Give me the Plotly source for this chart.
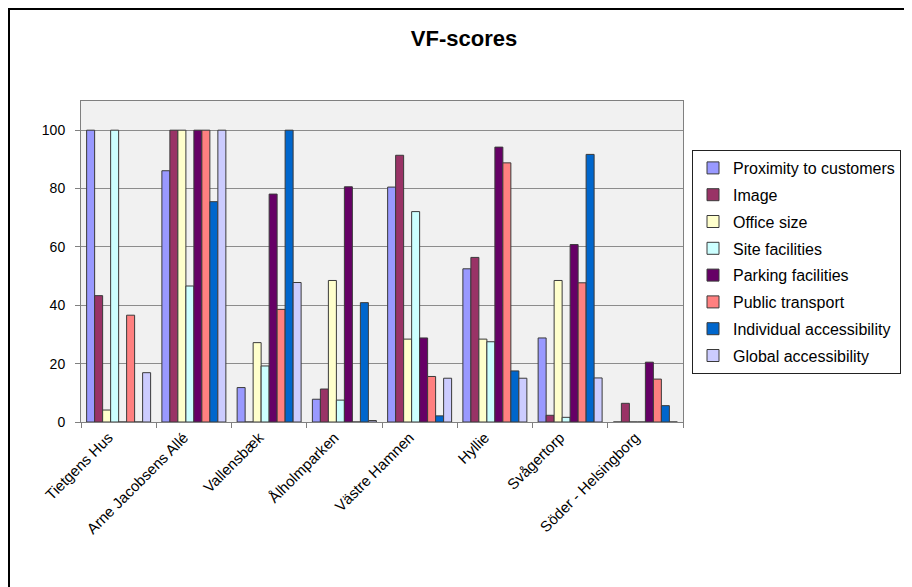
import plotly.graph_objects as go

categories = ["Tietgens Hus", "Arne Jacobsens Allé", "Vallensbæk", "Ålholmparken",
              "Västre Hamnen", "Hyllie", "Svågertorp", "Söder - Helsingborg"]

proximity = [100, 86.1, 11.8, 7.8, 80.5, 52.5, 28.8, 0]
image = [43.3, 100, 0, 11.3, 91.4, 56.4, 2.3, 6.4]
office_size = [4.1, 100, 27.2, 48.5, 28.4, 28.4, 48.5, 0]
site_facilities = [100, 46.6, 19.2, 7.5, 72.1, 27.5, 1.6, 0]
parking = [0, 100, 78.1, 80.6, 28.8, 94.2, 60.8, 20.5]
public_transport = [36.6, 100, 38.6, 0, 15.6, 88.8, 47.7, 14.7]
individual_access = [0, 75.5, 100, 40.9, 2.1, 17.5, 91.7, 5.6]
global_access = [16.9, 100, 47.8, 0.5, 15.0, 15.0, 15.1, 0]

series_names = ["Proximity to customers", "Image", "Office size", "Site facilities",
                "Parking facilities", "Public transport", "Individual accessibility",
                "Global accessibility"]
series_values = [proximity, image, office_size, site_facilities, parking,
                 public_transport, individual_access, global_access]
series_colors = ["#9999FF", "#993366", "#FFFFCC", "#CCFFFF", "#660066",
                 "#FF8080", "#0066CC", "#CCCCFF"]

y_ticks = [0, 20, 40, 60, 80, 100]

fig = go.Figure()
for i, (name, vals, col) in enumerate(zip(series_names, series_values, series_colors)):
    fig.add_trace(go.Bar(
        x=categories, y=vals, name=name, legendgroup=str(i),
        marker=dict(color=col, line=dict(color="#3a3a3a", width=1)),
    ))

# page body has an 8px margin; work in screen pixels and shift
OFF = 8
W, H = 912 - OFF, 587 - OFF
L, R, T, B = 81 - OFF, 229, 101 - OFF, 165
pw = W - L - R
ph = H - T - B

def px_x(x):
    return (x - OFF - L) / pw

def px_y(y):
    return (H + OFF - B - y) / ph

fig.update_layout(
    width=W, height=H,
    margin=dict(l=L, r=R, t=T, b=B, autoexpand=False),
    paper_bgcolor="white",
    plot_bgcolor="#F1F1F1",
    font=dict(family="Liberation Sans, Arial, sans-serif", color="black", size=13),
    title=dict(text="<b>VF-scores</b>", x=(464 - OFF) / W, xanchor="center",
               y=1 - (38 - OFF) / H, yanchor="middle", font=dict(size=22)),
    barmode="group",
    bargap=0.15,
    bargroupgap=0,
    showlegend=True,
    legend=dict(
        x=px_x(692), y=px_y(150), xanchor="left", yanchor="top",
        bordercolor="#222222", borderwidth=1, bgcolor="white",
        font=dict(size=16), tracegroupgap=3, itemwidth=30,
    ),
    xaxis=dict(
        tickangle=-45, tickson="boundaries", ticks="outside", ticklen=5,
        tickcolor="#808080", showline=True, linecolor="#808080", linewidth=1,
        mirror=True, tickfont=dict(size=15), showgrid=False,
        ticklabelshift=-10,
    ),
    yaxis=dict(
        range=[0, 110], tickvals=y_ticks, ticks="outside", ticklen=5,
        tickcolor="#808080", showline=True, linecolor="#808080", linewidth=1,
        mirror=True, showgrid=True, gridcolor="#8C8C8C", gridwidth=1,
        tickfont=dict(size=14), zeroline=False, ticklabelstandoff=7,
    ),
    shapes=[
        dict(type="line", xref="paper", yref="paper",
             x0=px_x(8.5), x1=px_x(8.5), y0=px_y(7), y1=px_y(600),
             line=dict(color="black", width=3)),
        dict(type="line", xref="paper", yref="paper",
             x0=px_x(7), x1=px_x(920), y0=px_y(8.5), y1=px_y(8.5),
             line=dict(color="black", width=3)),
    ],
)

fig.write_html("out.html")
